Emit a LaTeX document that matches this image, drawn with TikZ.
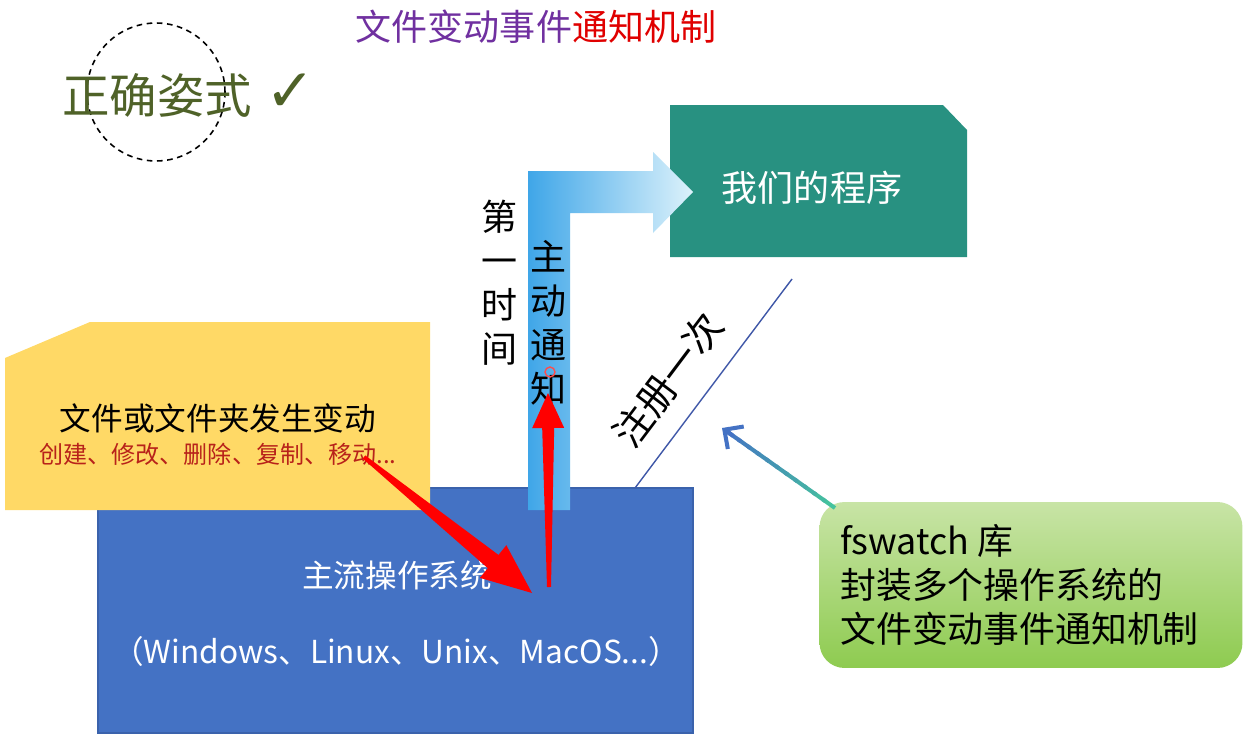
\documentclass[tikz,border=0pt]{standalone}
\usepackage{fontspec}
\setmainfont{Noto Sans CJK SC}
\newfontfamily\symf{DejaVu Sans}
\usetikzlibrary{calc,arrows.meta}
\definecolor{osblue}{HTML}{4472C4}
\definecolor{osedge}{HTML}{3A62AC}
\definecolor{evyellow}{HTML}{FFD966}
\definecolor{evred}{HTML}{B8221A}
\definecolor{progteal}{HTML}{289181}
\definecolor{barblue}{HTML}{3FA6E8}
\definecolor{barlight}{HTML}{DDF2FB}
\definecolor{titlepurple}{HTML}{7030A0}
\definecolor{titlered}{HTML}{E00000}
\definecolor{okgreen}{HTML}{4F6228}
\definecolor{regblue}{HTML}{4058A8}
\definecolor{fstop}{HTML}{C8E4A6}
\definecolor{fsbot}{HTML}{8ECB50}
\definecolor{fstail}{HTML}{45C29E}
\definecolor{fshead}{HTML}{4472C4}
\tikzset{
  lbl/.style={inner sep=0pt, text=black},
  oslbl/.style={lbl, text=white, font=\fontsize{18}{22}\selectfont},
  vlab/.style={lbl, align=center, font=\fontsize{20.5}{25}\selectfont},
  redarrow/.style={fill=red, draw=none},
}
\begin{document}
\begin{tikzpicture}[x=0.02cm,y=-0.02cm]
\useasboundingbox (0,0) rectangle (1252,737);
\fill[white] (0,0) rectangle (1252,737);

% title
\node[lbl, font=\fontsize{20.5}{24}\selectfont] (title) at (536,27)
  {\textcolor{titlepurple}{文件变动事件}\textcolor{titlered}{通知机制}};

% correct way
\node[draw=black, dash pattern=on 3.2pt off 2.6pt, line width=0.9pt, circle, minimum size=2.76cm, inner sep=0pt] (ring) at (156,92) {};
\node[lbl, text=okgreen, font=\fontsize{27}{30}\selectfont] (correct) at (157,95) {正确姿式};
\node[lbl, text=okgreen, font=\symf\fontsize{34}{36}\selectfont] (check) at (291,93) {✓};

% operating system box
\fill[osblue, draw=osedge, line width=0.6pt] (98,488) rectangle (693,733);
\node[oslbl] (os) at (397,575) {主流操作系统};
\node[oslbl] (oslist) at (396,651) {（Windows、Linux、Unix、MacOS...）};

% file event box
\fill[evyellow] (5,358) -- (90,322) -- (430,322) -- (430,510) -- (5,510) -- cycle;
\node[lbl, font=\fontsize{18}{22}\selectfont] (ev) at (218,418) {文件或文件夹发生变动};
\node[lbl, text=evred, font=\fontsize{13.7}{16}\selectfont] (evsub) at (218,454) {创建、修改、删除、复制、移动...};

% program box
\fill[progteal] (670,105) -- (943,105) -- (967,130) -- (967,257) -- (670,257) -- cycle;
\node[lbl, text=white, font=\fontsize{20.5}{24}\selectfont] (prog) at (812,188) {我们的程序};

% bent arrow
\shade[left color=barblue, right color=barlight]
  (528,510) -- (528,171) -- (653,171) -- (653,152) -- (693,192) -- (653,233)
  -- (653,213) -- (570,213) -- (570,510) -- cycle;

% vertical labels
\node[vlab] (first) at (500,283) {第\\一\\时\\间};
\node[vlab] (active) at (549,323) {主\\动\\通\\知};
\draw[red!70, line width=0.8pt] (550,372) circle [radius=0.1cm];

% register line
\coordinate (regA) at (635,488);
\coordinate (regB) at (792,279);
\draw[regblue, line width=0.8pt] (regA) -- (regB);
\node[lbl, rotate=53, font=\fontsize{22}{26}\selectfont] (reg) at (668,380) {注册一次};

% fswatch box
\node[rounded corners=0.5cm, top color=fstop, bottom color=fsbot, minimum width=8.46cm, minimum height=3.32cm, inner sep=0pt] (fsw) at (1031,585) {};
\node[lbl, anchor=west, align=left, font=\fontsize{20.4}{25}\selectfont] (fswtext) at (840,585)
  {fswatch 库\\封装多个操作系统的\\文件变动事件通知机制};

% gradient arrow from fswatch to register line
\coordinate (fsT) at (835,508);
\coordinate (fsH) at (722,428);
\foreach \i in {0,...,11}{
  \pgfmathsetmacro{\a}{\i/12}
  \pgfmathsetmacro{\b}{(\i+1.3)/12}
  \pgfmathsetmacro{\p}{100-\i*100/11}
  \draw[color=fstail!\p!fshead, line width=2.3pt] ($(fsT)!\a!(fsH)$) -- ($(fsT)!{min(\b,0.97)}!(fsH)$);
}
\draw[fshead, line width=2.3pt, -{Straight Barb[length=0.28cm,width=0.55cm]}] ($(fsT)!0.9!(fsH)$) -- (fsH);

% red arrow 1: file event -> OS
\coordinate (r1t) at (364,457);
\coordinate (r1h) at (532,593);
\coordinate (r1b) at ($(r1h)!1cm!(r1t)$);
\fill[redarrow] ($(r1t)!0.04cm!90:(r1h)$) -- ($(r1b)!0.17cm!90:(r1h)$) -- ($(r1b)!0.42cm!90:(r1h)$)
  -- (r1h) -- ($(r1b)!0.42cm!-90:(r1h)$) -- ($(r1b)!0.17cm!-90:(r1h)$) -- ($(r1t)!0.04cm!-90:(r1h)$) -- cycle;

% red arrow 2: OS -> notify
\coordinate (r2t) at (549,587);
\coordinate (r2h) at (548,393);
\coordinate (r2b) at ($(r2h)!0.7cm!(r2t)$);
\fill[redarrow] ($(r2t)!0.04cm!90:(r2h)$) -- ($(r2b)!0.12cm!90:(r2h)$) -- ($(r2b)!0.32cm!90:(r2h)$)
  -- (r2h) -- ($(r2b)!0.32cm!-90:(r2h)$) -- ($(r2b)!0.12cm!-90:(r2h)$) -- ($(r2t)!0.04cm!-90:(r2h)$) -- cycle;
\end{tikzpicture}
\end{document}
